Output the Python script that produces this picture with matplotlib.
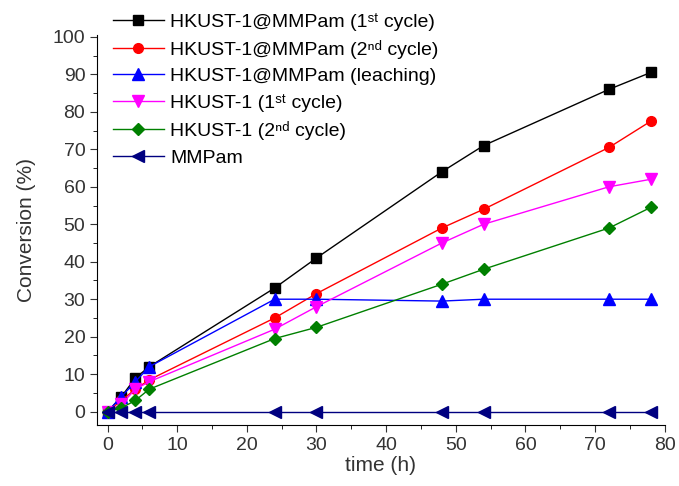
import matplotlib.pyplot as plt
import numpy as np

plt.rcParams['font.family'] = ['Liberation Sans', 'DejaVu Sans']

time = [0, 2, 4, 6, 24, 30, 48, 54, 72, 78]
hk_mm_1st = [0, 4, 9, 12, 33, 41, 64, 71, 86, 90.5]
hk_mm_2nd = [0, 3, 6, 8.5, 25, 31.5, 49, 54, 70.5, 77.5]
hk_mm_leach = [0, 4, 8, 12, 30, 30, 29.5, 30, 30, 30]
hk_1st = [0, 2, 6, 8, 22, 28, 45, 50, 60, 62]
hk_2nd = [0, 1, 3, 6, 19.5, 22.5, 34, 38, 49, 54.5]
mmpam = [0, 0, 0, 0, 0, 0, 0, 0, 0, 0]

fig = plt.figure(figsize=(6.79, 4.86), dpi=100)
ax = fig.add_axes([0.143, 0.126, 0.836, 0.802])

ax.plot(time, hk_mm_1st, '-s', color='black', ms=7, lw=1, label='HKUST-1@MMPam (1ˢᵗ cycle)')
ax.plot(time, hk_mm_2nd, '-o', color='red', ms=7, lw=1, label='HKUST-1@MMPam (2ⁿᵈ cycle)')
ax.plot(time, hk_mm_leach, '-^', color='blue', ms=8, lw=1, label='HKUST-1@MMPam (leaching)')
ax.plot(time, hk_1st, '-v', color='magenta', ms=8, lw=1, label='HKUST-1 (1ˢᵗ cycle)')
ax.plot(time, hk_2nd, '-D', color='green', ms=6, lw=1, label='HKUST-1 (2ⁿᵈ cycle)')
ax.plot(time, mmpam, '-<', color='navy', ms=8, lw=1, label='MMPam')

ax.set_xlim(-1.5, 80)
ax.set_ylim(-3.5, 100.5)
ax.set_xticks(np.arange(0, 81, 10))
ax.set_yticks(np.arange(0, 101, 10))
ax.set_xticks(np.arange(0, 81, 5), minor=True)
ax.set_yticks(np.arange(0, 101, 5), minor=True)
ax.spines['top'].set_visible(False)
ax.spines['right'].set_visible(False)
ax.tick_params(direction='out', labelsize=14, length=5, colors='#333333', labelcolor='#333333')
ax.tick_params(which='minor', length=3)

ax.set_xlabel('time (h)', size=15, color='#333333', labelpad=2)
ax.set_ylabel('Conversion (%)', size=15, color='#333333', labelpad=12)

ax.legend(loc='upper left', bbox_to_anchor=(0.028, 1.057), frameon=False, fontsize=14,
          handlelength=2.6, handletextpad=0.35, labelspacing=0.46, borderpad=0, borderaxespad=0)

fig.savefig('out.png', dpi=100)
